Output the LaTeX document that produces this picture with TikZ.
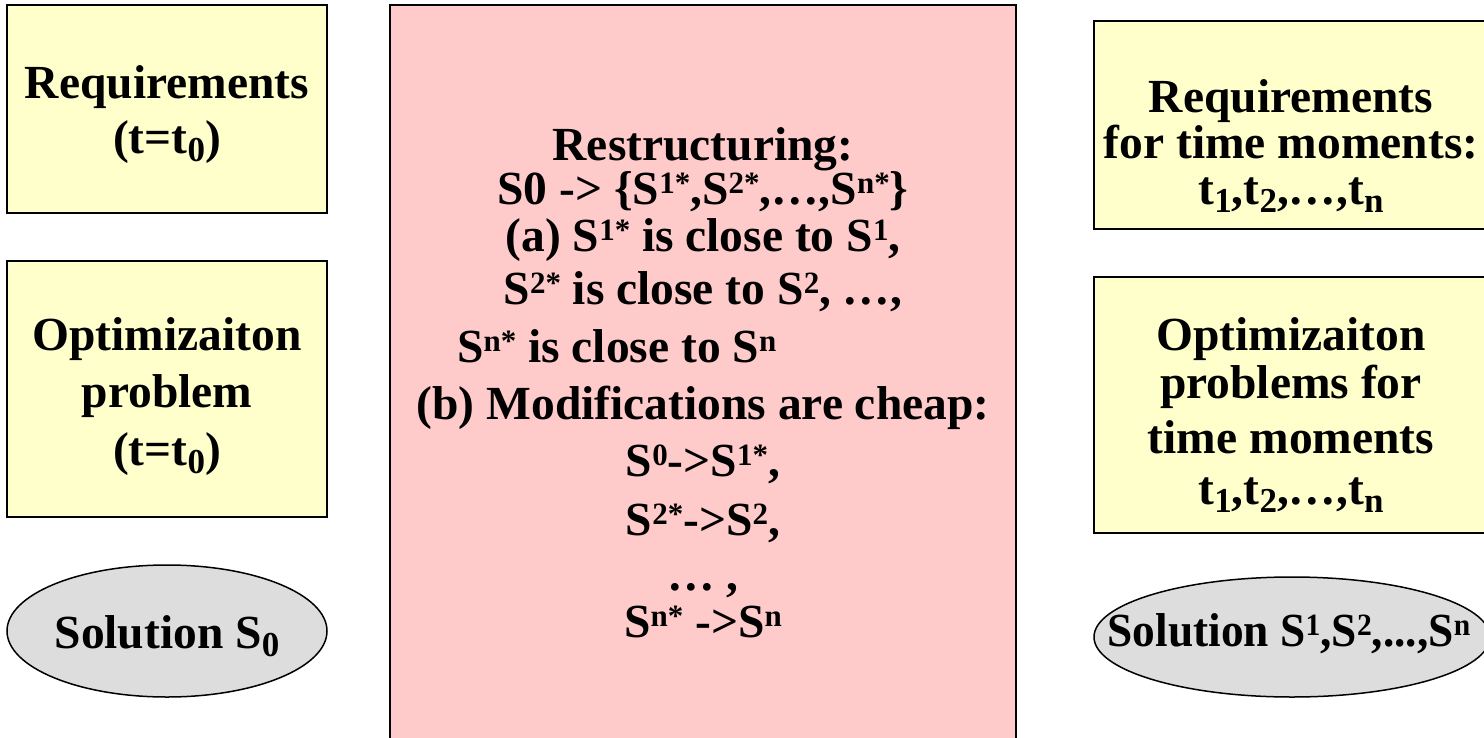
\documentclass[tikz,border=0pt]{standalone}
\usepackage{fontspec}
\setmainfont{Liberation Serif}
\usetikzlibrary{shapes.geometric}
\definecolor{boxyellow}{HTML}{FFFFCC}
\definecolor{boxpink}{HTML}{FFCACA}
\definecolor{solgray}{HTML}{DDDDDD}
% raised and lowered indices
\newcommand\upidx[1]{\raisebox{10.5pt}{\fontsize{31}{31}\selectfont #1}}
\newcommand\dnidx[1]{\raisebox{-8pt}{\fontsize{35}{35}\selectfont #1}}
\begin{document}
\begin{tikzpicture}[x=1pt,y=-1pt,
  every node/.style={font=\fontsize{47.5}{56}\selectfont\bfseries, inner sep=0pt},
  yellowbox/.style={draw=black, line width=2.7pt, fill=boxyellow, rectangle},
  pinkbox/.style={draw=black, line width=2.7pt, fill=boxpink, rectangle},
  solution/.style={draw=black, line width=1.5pt, fill=solgray, ellipse},
  textline/.style={anchor=base}]
\useasboundingbox (0,0) rectangle (1484,737);
\clip (0,0) rectangle (1484,737);

% left column: the current time moment
\node[yellowbox, minimum width=320, minimum height=208] (req0) at (167,109) {};
\node[textline] (req0a) at (167,98) {Requirements};
\node[textline] (req0b) at (167,153) {(t=t\dnidx{0})};

\node[yellowbox, minimum width=320, minimum height=256] (opt0) at (167,389) {};
\node[textline] (opt0a) at (167,350) {Optimizaiton};
\node[textline] (opt0b) at (167,407) {problem};
\node[textline] (opt0c) at (167,465) {(t=t\dnidx{0})};

\node[solution, minimum width=320, minimum height=132] (sol0) at (167,631) {};
\node[textline] (sol0a) at (167,648) {Solution S\dnidx{0}};

% middle: the restructuring step
\node[pinkbox, minimum width=626, minimum height=760] (restr) at (703,385) {};
\node[textline] (c1) at (703,160) {Restructuring:};
\node[textline] (c2) at (703,204) {S0 -> \{S\upidx{1*},S\upidx{2*},…,S\upidx{n*}\}};
\node[textline] (c3) at (703,251) {(a) S\upidx{1*} is close to S\upidx{1},};
\node[textline] (c4) at (703,304) {S\upidx{2*} is close to S\upidx{2}, …,};
\node[textline, anchor=base west] (c5) at (457,362) {S\upidx{n*} is close to S\upidx{n}};
\node[textline] (c6) at (703,419) {(b) Modifications are cheap:};
\node[textline] (c7) at (703,476) {S\upidx{0}->S\upidx{1*},};
\node[textline] (c8) at (703,535) {S\upidx{2*}->S\upidx{2},};
\node[textline] (c9) at (703,590) {… ,};
\node[textline] (c10) at (703,637) {S\upidx{n*} ->S\upidx{n}};

% right column: the future time moments
\node[yellowbox, minimum width=394, minimum height=208] (reqn) at (1291,125) {};
\node[textline] (reqna) at (1291,112) {Requirements};
\node[textline] (reqnb) at (1291,158) {for time moments:};
\node[textline] (reqnc) at (1291,204) {t\dnidx{1},t\dnidx{2},…,t\dnidx{n}};

\node[yellowbox, minimum width=394, minimum height=256] (optn) at (1291,405) {};
\node[textline] (optna) at (1291,350) {Optimizaiton};
\node[textline] (optnb) at (1291,398) {problems for};
\node[textline] (optnc) at (1291,453) {time moments};
\node[textline] (optnd) at (1291,504) {t\dnidx{1},t\dnidx{2},…,t\dnidx{n}};

\node[solution, minimum width=396, minimum height=120] (soln) at (1292,637) {};
\node[textline] (solna) at (1289,646) {\scalebox{0.955}[1]{Solution S\upidx{1},S\upidx{2},...,S\upidx{n}}};
\end{tikzpicture}
\end{document}
